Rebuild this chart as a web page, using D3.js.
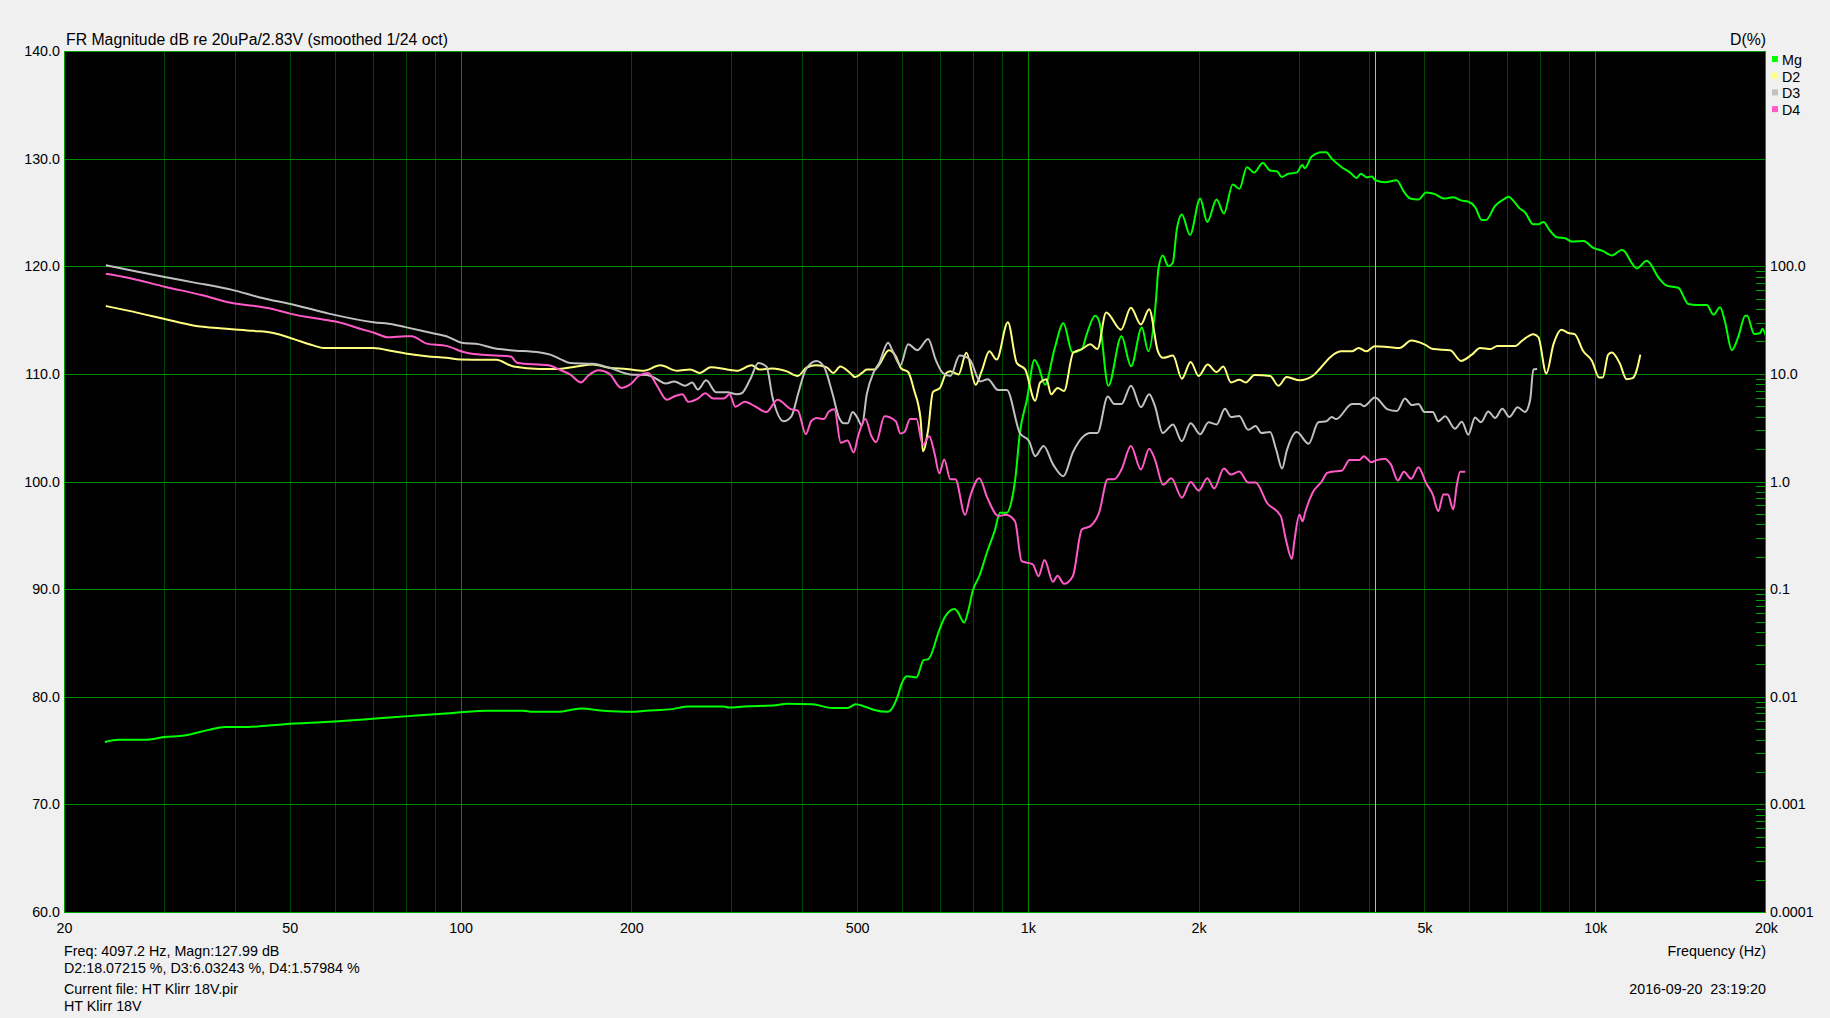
<!DOCTYPE html>
<html>
<head>
<meta charset="utf-8">
<script src="https://cdn.jsdelivr.net/npm/d3@7"></script>
<style>
html,body{margin:0;padding:0;background:#f0f0f0;}
svg{display:block;}
text{font-family:"Liberation Sans",Arial,sans-serif;font-size:14.3px;fill:#000;}
</style>
</head>
<body>
<svg id="chart" width="1830" height="1018"></svg>
<script>
// ---------------- DATA ----------------
const seriesNames = ["Mg", "D2", "D3", "D4"];
const freqTickValues = [20, 50, 100, 200, 500, 1000, 2000, 5000, 10000, 20000];
const freqTickLabels = ["20", "50", "100", "200", "500", "1k", "2k", "5k", "10k", "20k"];
const dbTickValues = [140, 130, 120, 110, 100, 90, 80, 70, 60];
const pctTickValues = [100, 10, 1, 0.1, 0.01, 0.001, 0.0001];
const pctTickLabels = ["100.0", "10.0", "1.0", "0.1", "0.01", "0.001", "0.0001"];
const cursorFreq = 4097.2;

// Magnitude, [Hz, dB]
const mgData = [[23.6,75.8],[25,76.0],[28,76.0],[30,76.25],[32.6,76.4],[35.8,76.9],[38.4,77.2],[42.2,77.2],[49,77.45],[60,77.7],[70,77.95],[81,78.2],[97,78.5],[112,78.7],[129,78.7],[134,78.6],[148,78.6],[163,78.9],[179,78.7],[200,78.6],[212,78.7],[236,78.85],[252,79.1],[291,79.1],[297,79.0],[316,79.1],[359,79.2],[376,79.35],[417,79.3],[452,78.95],[481,78.95],[497,79.3],[515,79.1],[534,78.8],[566,78.6],[590,80.1],[598,81.1],[612,81.9],[636,81.8],[655,83.4],[668,83.5],[698,86.2],[714,87.4],[742,88.15],[752,87.9],[772,86.9],[786,88.1],[800,89.9],[821,91.2],[848,93.5],[875,95.5],[893,97.1],[918,97.1],[937,98.3],[950,100.2],[968,104.5],[996,107.6],[1027,111.3],[1044,110.7],[1072,109.0],[1114,112.3],[1155,114.7],[1198,112.0],[1245,112.3],[1270,113.7],[1314,115.4],[1337,114.8],[1386,108.9],[1462,113.5],[1520,110.7],[1588,114.3],[1630,112.1],[1682,116.9],[1698,119.7],[1729,121.0],[1768,120.0],[1800,120.3],[1830,123.4],[1868,124.8],[1931,122.9],[2012,126.3],[2071,124.1],[2151,126.2],[2216,124.9],[2296,127.6],[2360,127.2],[2432,129.2],[2505,128.7],[2594,129.6],[2672,128.9],[2752,128.8],[2801,128.3],[2878,128.6],[2977,128.7],[3046,129.4],[3077,129.1],[3165,130.2],[3296,130.6],[3354,130.6],[3432,130.0],[3575,129.2],[3698,128.7],[3799,128.2],[3861,128.6],[3957,128.25],[4037,128.35],[4097,127.99],[4264,127.8],[4468,128.0],[4591,127.0],[4718,126.3],[4880,126.2],[5034,126.85],[5221,126.7],[5400,126.3],[5623,126.4],[5816,126.1],[5977,126.0],[6142,125.5],[6311,124.3],[6422,124.3],[6660,125.6],[6891,126.2],[7032,126.45],[7171,126.1],[7350,125.4],[7522,125.0],[7778,123.9],[7938,123.9],[8102,124.1],[8325,123.3],[8555,122.7],[8851,122.6],[9094,122.3],[9533,122.35],[9926,121.7],[10337,121.4],[10697,121.0],[11140,121.5],[11253,121.4],[11600,120.3],[11838,119.8],[12330,120.5],[12430,120.4],[12926,118.95],[13370,118.2],[14010,118.0],[14590,116.5],[15100,116.4],[15730,116.4],[16160,115.5],[16600,116.2],[16940,114.8],[17410,112.2],[17890,113.5],[18380,115.4],[18520,115.4],[19070,113.7],[19540,113.8],[19700,114.2],[20000,113.5]];

// 2nd harmonic distortion, [Hz, %]
const d2Data = [[23.7,42.7],[25.8,38.9],[30.1,32.4],[33.8,28.2],[38.7,26.3],[43.1,25.1],[46.8,24.0],[51,20.9],[55,18.4],[57.4,17.4],[70.2,17.4],[76.1,16.2],[80,15.5],[87.2,14.6],[94.4,14.1],[100,13.6],[115.6,13.5],[124,11.7],[138,11.1],[149,11.1],[160,11.7],[171,12.2],[183,11.4],[196,11.1],[210,10.7],[225,12.0],[241,10.7],[254,11.0],[264,10.2],[276,11.5],[295,11.0],[307,10.7],[326,12.0],[336,11.0],[355,11.2],[375,10.6],[393,9.55],[407,11.4],[424,12.0],[442,11.5],[454,10.2],[467,11.7],[486,10.2],[496,9.33],[510,10.2],[520,11.0],[537,11.0],[547,12.2],[569,16.6],[585,14.6],[598,11.2],[615,10.4],[630,7.08],[647,3.80],[653,1.91],[667,3.02],[680,6.76],[700,7.41],[718,10.2],[730,10.6],[755,9.89],[779,15.7],[809,7.94],[829,10.6],[855,16.2],[881,13.6],[922,30.2],[956,12.6],[989,11.0],[1030,5.62],[1051,8.32],[1078,8.91],[1099,6.46],[1128,7.41],[1158,6.92],[1202,15.7],[1245,17.0],[1289,18.8],[1326,17.0],[1374,37.2],[1459,25.7],[1519,41.2],[1582,28.8],[1636,39.8],[1695,16.2],[1731,14.1],[1802,14.8],[1868,9.02],[1936,12.9],[2000,9.55],[2074,12.2],[2151,10.4],[2210,11.7],[2280,8.32],[2358,8.81],[2422,8.32],[2509,9.77],[2674,9.55],[2764,7.76],[2858,9.33],[3015,8.71],[3174,9.55],[3268,11.1],[3427,14.6],[3567,16.2],[3727,16.2],[3830,17.4],[3950,16.2],[4087,18.1],[4310,17.8],[4520,17.4],[4740,20.4],[5000,18.8],[5180,17.0],[5550,16.6],[5800,13.2],[6060,15.1],[6270,17.4],[6540,17.0],[6720,18.2],[7240,18.2],[7420,20.2],[7780,23.4],[7940,21.9],[8200,10.1],[8440,18.8],[8720,25.7],[8960,24.0],[9200,23.4],[9530,16.2],[9870,13.2],[10160,9.23],[10310,9.23],[10540,15.1],[10700,15.8],[11040,12.6],[11360,8.91],[11640,9.12],[11820,10.6],[12010,15.1]];

// 3rd harmonic distortion, [Hz, %]
const d3Data = [[23.7,102],[25.8,93.3],[30.1,79.4],[33.8,70.8],[39.6,60.3],[44.3,51.3],[51,43.7],[58.6,36.3],[70.2,30.2],[76.1,28.8],[80,27.2],[89,24.0],[94.4,22.4],[100.4,19.5],[108,18.8],[114,17.4],[122.6,16.6],[138,15.8],[144,15.1],[149.6,13.8],[156,12.6],[171,12.4],[183,11.4],[199,9.89],[213,9.77],[222,8.91],[230,8.13],[238,8.51],[249,7.76],[256,8.32],[262,7.16],[271,8.71],[282,6.76],[295,6.76],[307,6.46],[313,6.61],[324,8.91],[335,12.6],[346,11.7],[355,5.96],[371,3.63],[383,4.03],[394,6.68],[406,11.0],[424,13.2],[437,11.7],[452,6.68],[465,3.89],[474,3.47],[481,3.47],[491,4.42],[499,4.03],[510,3.31],[520,6.46],[535,10.4],[547,12.6],[567,19.5],[578,16.2],[596,12.0],[615,18.8],[639,16.6],[667,21.1],[688,13.5],[708,10.2],[730,9.55],[758,14.8],[790,13.6],[824,8.51],[850,8.91],[886,7.08],[918,7.08],[968,2.82],[1005,2.37],[1030,1.72],[1066,2.14],[1107,1.45],[1155,1.12],[1200,1.86],[1245,2.54],[1289,2.82],[1326,2.82],[1383,6.17],[1420,5.25],[1462,5.25],[1520,7.76],[1582,4.90],[1636,6.46],[1675,5.01],[1729,2.82],[1802,3.39],[1868,2.37],[1936,3.47],[2012,2.75],[2082,3.55],[2151,3.39],[2225,4.73],[2280,3.98],[2358,4.07],[2445,3.02],[2520,3.27],[2580,2.82],[2672,2.88],[2740,1.97],[2806,1.32],[2858,1.91],[2977,2.88],[3125,2.24],[3250,3.55],[3360,3.63],[3430,3.98],[3495,3.80],[3727,5.25],[3850,5.25],[3910,5.01],[4090,6.03],[4310,4.68],[4470,4.52],[4620,5.89],[4750,5.13],[4880,5.25],[5000,4.42],[5170,4.42],[5290,3.63],[5440,4.03],[5660,3.09],[5820,3.59],[5975,2.72],[6140,3.94],[6290,3.55],[6480,4.47],[6660,3.89],[6860,4.73],[7060,3.98],[7300,4.90],[7520,4.42],[7680,5.75],[7780,11.0],[7900,11.1]];

// 4th harmonic distortion, [Hz, %]
const d4Data = [[23.7,85.1],[25.8,78.5],[30.1,64.6],[35.1,53.7],[39.4,45.7],[46,40.7],[50,36.3],[58,31.6],[61,30.2],[66.5,26.3],[70.6,24.0],[74.4,21.9],[80,22.4],[82,22.4],[87.2,19.1],[94.4,18.2],[102,15.8],[108,15.1],[122.6,14.5],[126,12.6],[143,12.0],[149,11.0],[156,9.89],[163,8.32],[168,9.66],[175,10.8],[183,10.0],[192,7.41],[200,8.13],[206,9.55],[214,10.2],[222,7.76],[231,5.75],[238,6.17],[246,6.46],[252,5.50],[262,5.89],[270,6.61],[279,5.89],[291,5.89],[298,6.46],[305,4.95],[317,5.50],[330,5.01],[346,4.42],[362,5.75],[383,4.68],[393,4.57],[406,2.75],[415,3.63],[424,3.89],[437,3.80],[446,4.47],[456,4.68],[468,2.29],[481,2.40],[493,1.86],[502,2.63],[517,3.80],[530,2.63],[540,2.32],[559,4.03],[585,3.63],[596,2.79],[606,2.88],[620,3.80],[636,3.80],[653,2.19],[670,2.63],[685,1.8],[698,1.19],[712,1.60],[730,1.05],[745,1.05],[775,0.490],[791,0.724],[821,1.07],[848,0.708],[887,0.479],[915,0.490],[949,0.427],[975,0.182],[1020,0.170],[1044,0.132],[1070,0.186],[1107,0.117],[1128,0.133],[1158,0.112],[1200,0.132],[1245,0.359],[1289,0.385],[1335,0.513],[1383,1.05],[1420,1.05],[1462,1.29],[1519,2.14],[1582,1.29],[1636,2.02],[1675,1.60],[1731,0.933],[1790,1.07],[1868,0.708],[1936,0.989],[2000,0.822],[2071,1.07],[2130,0.861],[2216,1.32],[2280,1.16],[2358,1.24],[2445,0.977],[2520,0.977],[2640,0.631],[2790,0.479],[2850,0.288],[2920,0.191],[2950,0.282],[3010,0.490],[3050,0.427],[3080,0.513],[3175,0.785],[3296,1.00],[3370,1.20],[3430,1.23],[3575,1.26],[3690,1.58],[3840,1.58],[3910,1.72],[4030,1.51],[4115,1.58],[4260,1.62],[4360,1.45],[4490,1.02],[4600,1.23],[4740,1.06],[4880,1.36],[5034,0.966],[5170,0.759],[5290,0.531],[5400,0.759],[5500,0.759],[5620,0.550],[5700,0.912],[5780,1.23],[5900,1.23]];

const infoLines = ["Freq: 4097.2 Hz, Magn:127.99 dB", "D2:18.07215 %, D3:6.03243 %, D4:1.57984 %"];
const fileLines = ["Current file: HT Klirr 18V.pir", "HT Klirr 18V"];

// ---------------- LAYOUT ----------------
const L = 64, R = 1766, T = 51, B = 912;
const colors = {Mg: "#00ff00", D2: "#ffff80", D3: "#c0c0c0", D4: "#ff5ac8"};

const svg = d3.select("#chart");
svg.append("rect").attr("width", 1830).attr("height", 1018).attr("fill", "#f0f0f0");

const x = d3.scaleLog().domain([20, 20000]).range([L, R]);
const yDb = d3.scaleLinear().domain([60, 140]).range([B, T]);
const yPct = d3.scaleLog().domain([1e-4, 1e4]).range([B, T]);

// plot background
svg.append("rect").attr("x", L).attr("y", T).attr("width", R - L).attr("height", B - T).attr("fill", "#000");

const grid = svg.append("g").attr("shape-rendering", "crispEdges");
// vertical grid
const gridFreqs = [];
[10, 100, 1000].forEach(dec => { for (let m = 1; m <= 9; m++) { const f = dec * m; if (f > 20 && f < 20000) gridFreqs.push(f); } });
gridFreqs.push(10000);
const uniqF = Array.from(new Set(gridFreqs)).filter(f => f > 20 && f < 20000);
grid.selectAll("line.v").data(uniqF).join("line")
  .attr("x1", d => Math.round(x(d)) + 0.5).attr("x2", d => Math.round(x(d)) + 0.5)
  .attr("y1", T).attr("y2", B)
  .attr("stroke", d => ([100, 1000, 10000].includes(d) ? "#008a00" : "#004a00"))
  .attr("stroke-width", 1);
// horizontal grid
grid.selectAll("line.h").data(dbTickValues.filter(v => v > 60 && v < 140)).join("line")
  .attr("x1", L).attr("x2", R)
  .attr("y1", d => Math.round(yDb(d)) + 0.5).attr("y2", d => Math.round(yDb(d)) + 0.5)
  .attr("stroke", "#008a00").attr("stroke-width", 1);

// right-axis minor ticks
const minorPct = [];
[1e-4, 1e-3, 1e-2, 1e-1, 1, 10].forEach(dec => { for (let m = 2; m <= 9; m++) minorPct.push(dec * m); });
grid.selectAll("line.m").data(minorPct).join("line")
  .attr("x1", R - 10).attr("x2", R)
  .attr("y1", d => Math.round(yPct(d)) + 0.5).attr("y2", d => Math.round(yPct(d)) + 0.5)
  .attr("stroke", "#00a000").attr("stroke-width", 1);

// cursor
svg.append("line").attr("shape-rendering", "crispEdges")
  .attr("x1", Math.round(x(cursorFreq)) + 0.5).attr("x2", Math.round(x(cursorFreq)) + 0.5)
  .attr("y1", T).attr("y2", B).attr("stroke", "#d8c800").attr("stroke-width", 1);

// curves
const clip = svg.append("clipPath").attr("id", "clip").append("rect")
  .attr("x", L).attr("y", T).attr("width", R - L).attr("height", B - T);
const curves = svg.append("g").attr("clip-path", "url(#clip)");
const lineDb = d3.line().x(d => x(d[0])).y(d => yDb(d[1])).curve(d3.curveMonotoneX);
const linePct = d3.line().x(d => x(d[0])).y(d => yPct(d[1])).curve(d3.curveMonotoneX);
curves.append("path").attr("d", lineDb(mgData)).attr("fill", "none").attr("stroke", colors.Mg).attr("stroke-width", 2);
curves.append("path").attr("d", linePct(d2Data)).attr("fill", "none").attr("stroke", colors.D2).attr("stroke-width", 2);
curves.append("path").attr("d", linePct(d3Data)).attr("fill", "none").attr("stroke", colors.D3).attr("stroke-width", 2);
curves.append("path").attr("d", linePct(d4Data)).attr("fill", "none").attr("stroke", colors.D4).attr("stroke-width", 2);

// frame
svg.append("rect").attr("shape-rendering", "crispEdges")
  .attr("x", L + 0.5).attr("y", T + 0.5).attr("width", R - L - 1).attr("height", B - T)
  .attr("fill", "none").attr("stroke", "#00a000").attr("stroke-width", 1);

// axes
const xAxis = d3.axisBottom(x).tickValues(freqTickValues)
  .tickFormat((d, i) => freqTickLabels[i]).tickSize(0).tickPadding(11);
const gx = svg.append("g").attr("transform", `translate(0,${B})`).call(xAxis);
const yAxisL = d3.axisLeft(yDb).tickValues(dbTickValues).tickFormat(d3.format(".1f")).tickSize(0).tickPadding(4);
const gyl = svg.append("g").attr("transform", `translate(${L},0)`).call(yAxisL);
const yAxisR = d3.axisRight(yPct).tickValues(pctTickValues).tickFormat((d, i) => pctTickLabels[i]).tickSize(0).tickPadding(4);
const gyr = svg.append("g").attr("transform", `translate(${R},0)`).call(yAxisR);
[gx, gyl, gyr].forEach(g => {
  g.select(".domain").remove();
  g.selectAll("text").attr("fill", "#000").style("font-family", '"Liberation Sans",Arial,sans-serif').style("font-size", "14.3px");
});

// titles
svg.append("text").attr("x", 66).attr("y", 45).style("font-size", "15.8px").text("FR Magnitude dB re 20uPa/2.83V (smoothed 1/24 oct)");
svg.append("text").attr("x", R).attr("y", 45).attr("text-anchor", "end").style("font-size", "15.8px").text("D(%)");
svg.append("text").attr("x", R).attr("y", 956).attr("text-anchor", "end").text("Frequency (Hz)");
svg.append("text").attr("x", R).attr("y", 994).attr("text-anchor", "end").text("2016-09-20  23:19:20").style("white-space", "pre");

// info text
svg.selectAll("text.info").data(infoLines).join("text").attr("class", "info")
  .attr("x", 64).attr("y", (d, i) => 956 + i * 17).text(d => d);
svg.selectAll("text.file").data(fileLines).join("text").attr("class", "file")
  .attr("x", 64).attr("y", (d, i) => 994 + i * 17).text(d => d);

// legend
const leg = svg.append("g");
seriesNames.forEach((n, i) => {
  leg.append("rect").attr("x", 1772).attr("y", 56 + i * 16.7).attr("width", 6).attr("height", 6).attr("fill", colors[n]);
  leg.append("text").attr("x", 1782).attr("y", 65 + i * 16.7).text(n);
});
</script>
</body>
</html>
